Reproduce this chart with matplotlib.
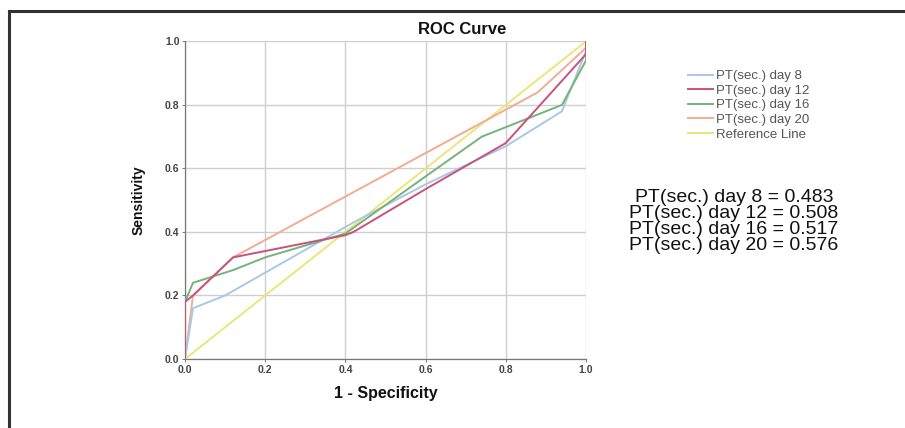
import matplotlib
matplotlib.use("Agg")
import matplotlib.pyplot as plt
from matplotlib.lines import Line2D

plt.rcParams['font.family'] = ['Liberation Sans', 'DejaVu Sans']

# Data (1 - specificity, sensitivity)
day8_x = [0.0, 0.02, 0.10, 0.42, 0.60, 0.80, 0.94, 1.00, 1.00]
day8_y = [0.0, 0.16, 0.20, 0.43, 0.55, 0.67, 0.78, 0.97, 1.00]
day12_x = [0.0, 0.0, 0.02, 0.12, 0.20, 0.40, 0.42, 0.60, 0.80, 1.00, 1.00]
day12_y = [0.0, 0.18, 0.20, 0.32, 0.34, 0.39, 0.40, 0.535, 0.68, 0.96, 1.00]
day16_x = [0.0, 0.0, 0.02, 0.12, 0.20, 0.40, 0.60, 0.74, 0.80, 0.94, 1.00, 1.00]
day16_y = [0.0, 0.18, 0.24, 0.28, 0.32, 0.395, 0.575, 0.70, 0.73, 0.80, 0.94, 1.00]
day20_x = [0.0, 0.02, 0.12, 0.88, 1.00, 1.00]
day20_y = [0.0, 0.20, 0.32, 0.84, 0.98, 1.00]
ref_x = [0.0, 1.0]
ref_y = [0.0, 1.0]

series_labels = ["PT(sec.) day 8", "PT(sec.) day 12", "PT(sec.) day 16",
                 "PT(sec.) day 20", "Reference Line"]
auc_values = [0.483, 0.508, 0.517, 0.576]
ticks = [0.0, 0.2, 0.4, 0.6, 0.8, 1.0]
tick_labels = ["0.0", "0.2", "0.4", "0.6", "0.8", "1.0"]

colors = ["#a9c8e6", "#c9527c", "#76b27a", "#f0ad92", "#ece57a"]

fig = plt.figure(figsize=(9.05, 4.28), dpi=100)
ax = fig.add_axes([0.2044, 0.1612, 0.4431, 0.742])

series = [(day8_x, day8_y), (day12_x, day12_y), (day16_x, day16_y),
          (day20_x, day20_y), (ref_x, ref_y)]
order = [4, 3, 0, 2, 1]
for i in order:
    xs, ys = series[i]
    ax.plot(xs, ys, color=colors[i], lw=1.4, zorder=3, solid_joinstyle='round')

ax.set_xlim(0, 1)
ax.set_ylim(0, 1)
ax.set_xticks(ticks)
ax.set_yticks(ticks)
ax.set_xticklabels(tick_labels)
ax.set_yticklabels(tick_labels)
ax.tick_params(axis='both', labelsize=7.5, colors='#666666', length=2.5, width=0.6,
               labelcolor='#444444', pad=1.5)
for lab in ax.get_xticklabels() + ax.get_yticklabels():
    lab.set_fontweight('bold')
ax.grid(True, color='#cfcfcf', lw=1.0, zorder=0)
for s in ['top', 'right']:
    ax.spines[s].set_visible(False)
for s in ['left', 'bottom']:
    ax.spines[s].set_color('#777777')
    ax.spines[s].set_linewidth(0.9)
ax.set_axisbelow(True)

ax.set_xlabel("1 - Specificity", fontsize=11.5, fontweight='bold', labelpad=8,
              color='#111111')
ax.set_ylabel("Sensitivity", fontsize=10, fontweight='bold', labelpad=14,
              color='#111111')

fig.text(462 / 905, 1 - 30 / 428, "ROC Curve", fontsize=12, fontweight='bold',
         ha='center', va='center', color='#111111')

handles = [Line2D([0], [0], color=c, lw=1.4) for c in colors]
leg = fig.legend(handles, series_labels, loc='upper left',
                 bbox_to_anchor=(688 / 905, 1 - 70 / 428), frameon=False,
                 fontsize=9.5, handlelength=1.9, handletextpad=0.25,
                 labelspacing=0.18, borderaxespad=0, borderpad=0)
for t in leg.get_texts():
    t.set_color('#555555')

auc_rows_y = [197, 213, 229, 245]
for lab, v, ypix in zip(series_labels[:4], auc_values, auc_rows_y):
    fig.text(734 / 905, 1 - ypix / 428, f"{lab} = {v:.3f}", fontsize=14,
             ha='center', va='center', color='#111111')

# frame lines (top and left)
fig.add_artist(Line2D([9 / 905, 1.0], [1 - 11 / 428, 1 - 11 / 428],
                      transform=fig.transFigure, color='#333333', lw=2.2))
fig.add_artist(Line2D([9 / 905, 9 / 905], [0, 1 - 11 / 428],
                      transform=fig.transFigure, color='#333333', lw=2.2))

fig.savefig("out.png", dpi=100)
